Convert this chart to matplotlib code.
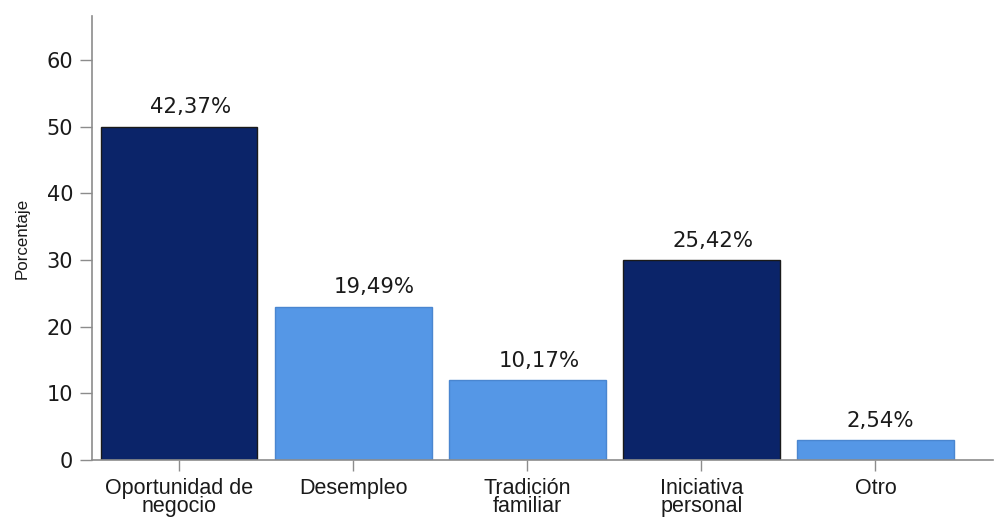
import matplotlib
matplotlib.use("Agg")
import matplotlib.pyplot as plt

categories = ["Oportunidad de\nnegocio", "Desempleo", "Tradición\nfamiliar", "Iniciativa\npersonal", "Otro"]
bar_heights = [50, 23, 12, 30, 3]
bar_labels = ["42,37%", "19,49%", "10,17%", "25,42%", "2,54%"]
yticks = [0, 10, 20, 30, 40, 50, 60]

# label horizontal shifts (points), style only
label_dx = [8.5, 15, 8.5, 8.5, 3.2]

dark = "#0b2469"
light = "#5597e6"
colors = [dark, light, light, dark, light]
edges = ["#1a1a1a", "#4a86d0", "#4a86d0", "#1a1a1a", "#4a86d0"]

plt.rcParams['font.family'] = ['Liberation Sans', 'DejaVu Sans']
num_font = ['DejaVu Sans']

fig = plt.figure(figsize=(9.95, 5.17), dpi=100)
ax = fig.add_axes([92/995, 1 - 460/517, (993-92)/995, (460-16)/517])

x = list(range(len(categories)))
ax.bar(x, bar_heights, width=0.9, color=colors, edgecolor=edges, linewidth=1.0)

for xi, h, lab, dx in zip(x, bar_heights, bar_labels, label_dx):
    ax.annotate(lab, (xi, h), xytext=(dx, 9.5), textcoords="offset points",
                ha="center", va="baseline", fontsize=15.3, color="#1a1a1a",
                family=num_font)

ax.set_xlim(-0.5, 4.675)
ax.set_ylim(0, 66.6)
ax.set_yticks(yticks)
ax.set_yticklabels([str(v) for v in yticks], family=num_font, fontsize=15, color="#1a1a1a")
ax.set_xticks(x)
ax.set_xticklabels(categories, fontsize=15.5, linespacing=0.82, color="#1a1a1a")

for s in ["top", "right"]:
    ax.spines[s].set_visible(False)
for s in ["left", "bottom"]:
    ax.spines[s].set_color("#8c8c8c")
    ax.spines[s].set_linewidth(1.2)

ax.tick_params(axis="y", length=8.5, width=1.0, color="#8c8c8c", pad=5)
ax.tick_params(axis="x", length=8, width=1.0, color="#8c8c8c", pad=5)

ax.set_ylabel("Porcentaje", fontsize=12.2, color="#1a1a1a", labelpad=12)

fig.savefig("out.png", dpi=100)
